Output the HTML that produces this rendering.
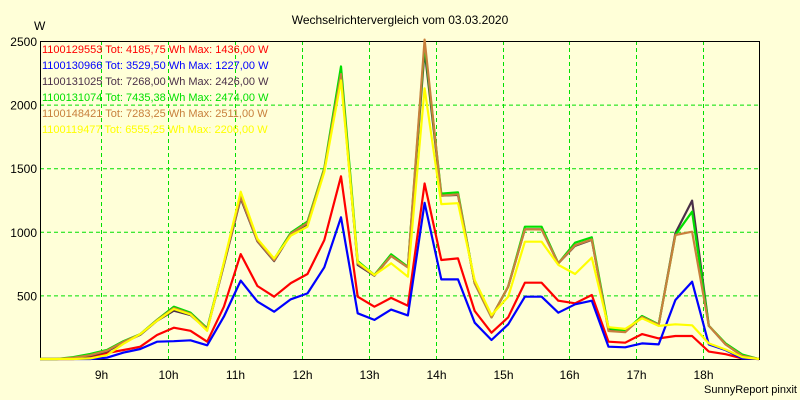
<!DOCTYPE html>
<html><head><meta charset="utf-8"><style>
body{margin:0;background:#ffffd8;}
svg{display:block;font-family:"Liberation Sans",sans-serif;}
</style></head><body>
<svg id="chart" width="800" height="400" viewBox="0 0 800 400">
<rect x="0" y="0" width="800" height="400" fill="#ffffd8"/>
<text x="400" y="24" font-size="12" text-anchor="middle" fill="#000">Wechselrichtervergleich vom 03.03.2020</text>
<text x="34" y="30" font-size="12" fill="#000">W</text>
<text x="797" y="393" font-size="11" text-anchor="end" fill="#000">SunnyReport pinxit</text>
<g id="grid"></g><g id="axes"></g><g id="series"></g><g id="legend"></g>
</svg>
<script>
const times=[];for(let k=0;k<44;k++){times.push(8+5/60+k*0.25);}
const yTicks=[500,1000,1500,2000,2500];
const xTicks=[9,10,11,12,13,14,15,16,17,18];
const xTickLabels=["9h","10h","11h","12h","13h","14h","15h","16h","17h","18h"];
const serialNames=["1100129553","1100130966","1100131025","1100131074","1100148421","1100119477"];
const totals=["4185,75","3529,50","7268,00","7435,38","7283,25","6555,25"];
const maxima=["1436,00","1227,00","2426,00","2474,00","2511,00","2206,00"];
const s1=[0,0,0,15,47,71,97,189,246,222,136,411,825,574,490,597,668,935,1436,490,411,480,419,1380,778,791,377,207,328,600,600,458,438,503,136,128,196,162,181,181,58,38,5,0];
const s2=[0,0,0,0,10,50,79,136,140,147,108,333,616,451,372,469,516,721,1114,359,307,388,343,1227,626,626,285,149,273,490,490,364,430,458,97,92,123,115,464,608,115,70,5,0];
const s3=[0,0,5,25,60,130,190,300,380,345,230,740,1263,925,770,980,1060,1480,2230,740,655,810,720,2426,1284,1290,595,328,569,1020,1020,752,890,936,230,215,330,270,990,1245,262,115,25,0];
const s4=[0,0,15,40,71,141,196,307,411,364,241,755,1285,935,784,993,1080,1500,2300,770,660,823,726,2474,1300,1310,595,328,569,1040,1040,752,914,957,241,221,338,273,975,1158,262,123,35,0];
const s5=[0,0,10,30,65,135,195,305,400,355,235,750,1275,930,775,985,1070,1490,2240,750,658,810,720,2511,1284,1295,595,328,569,1020,1018,752,895,940,220,211,330,270,975,1001,262,115,25,0];
const s6=[0,0,0,5,31,120,196,300,393,350,222,760,1315,945,790,970,1041,1470,2190,760,660,752,647,2128,1218,1225,620,345,490,922,922,740,668,797,250,237,320,260,273,265,123,75,15,0];
const seriesData=[s1,s2,s3,s4,s5,s6];
const colors=["#ff0000","#0000ff","#4a3048","#00e000","#c8803c","#ffff00"];
const X0=40,X1=759,Y0=359,Y1=41;
const tMin=8+5/60,tMax=18+50/60;
function xs(t){return X0+(t-tMin)/(tMax-tMin)*(X1-X0);}
function ys(v){return Y0-v/2500*(Y0-Y1);}
const NS="http://www.w3.org/2000/svg";
function mk(tag,parent){const e=document.createElementNS(NS,tag);parent.appendChild(e);return e;}
const grid=document.getElementById('grid'),axes=document.getElementById('axes'),ser=document.getElementById('series'),leg=document.getElementById('legend');
const bg=mk('rect',grid);bg.setAttribute('x',X0);bg.setAttribute('y',Y1);bg.setAttribute('width',X1-X0);bg.setAttribute('height',Y0-Y1);bg.setAttribute('fill','#ffffd8');


yTicks.forEach(v=>{
 const l=mk('line',grid);l.setAttribute('x1',X0);l.setAttribute('x2',X1);l.setAttribute('y1',ys(v)+0.5);l.setAttribute('y2',ys(v)+0.5);l.setAttribute('stroke','#00e000');l.setAttribute('stroke-dasharray','4,3');
 
 
 const t=mk('text',axes);t.setAttribute('x',37);t.setAttribute('y',ys(v)+5);t.setAttribute('font-size','12');t.setAttribute('text-anchor','end');t.textContent=v;
 
 
});
xTicks.forEach((h,i)=>{
 const x=Math.round(xs(h))+0.5;
 const l=mk('line',grid);l.setAttribute('x1',x);l.setAttribute('x2',x);l.setAttribute('y1',Y1);l.setAttribute('y2',Y0);l.setAttribute('stroke','#00e000');l.setAttribute('stroke-dasharray','4,3');
 
 
 const t=mk('text',axes);t.setAttribute('x',x);t.setAttribute('y',379);t.setAttribute('font-size','12');t.setAttribute('text-anchor','middle');t.textContent=xTickLabels[i];
 
 
});
const fr=mk('rect',axes);fr.setAttribute('x',X0+0.5);fr.setAttribute('y',Y1+0.5);fr.setAttribute('width',X1-X0);fr.setAttribute('height',Y0-Y1);fr.setAttribute('fill','none');fr.setAttribute('stroke','#000');


seriesData.forEach((d,si)=>{
 const p=mk('polyline',ser);
 p.setAttribute('points',d.map((v,i)=>xs(times[i]).toFixed(1)+','+ys(v).toFixed(1)).join(' '));
 p.setAttribute('fill','none');p.setAttribute('stroke',colors[si]);p.setAttribute('stroke-width','2.2');p.setAttribute('stroke-linejoin','round');
 
 
});
serialNames.forEach((n,i)=>{
 const t=mk('text',leg);t.setAttribute('x',42);t.setAttribute('y',53+i*16);t.setAttribute('font-size','11');t.setAttribute('fill',colors[i]);
 t.textContent=n+' Tot: '+totals[i]+' Wh Max: '+maxima[i]+' W';
 
 
});
</script>
</body></html>
